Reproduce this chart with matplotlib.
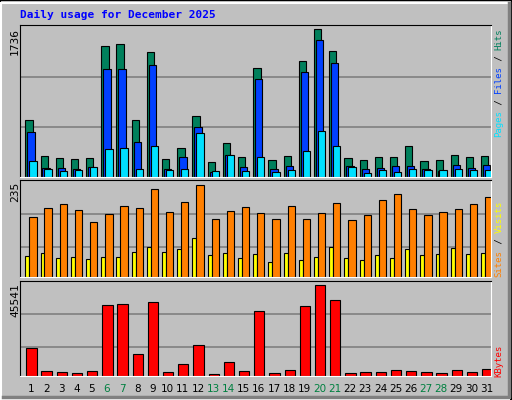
import matplotlib.pyplot as plt
from matplotlib.patches import Rectangle
import numpy as np

days = list(range(1, 32))
weekend = [6, 7, 13, 14, 20, 21, 27, 28]

hits = [664, 252, 228, 216, 228, 1537, 1560, 664, 1466, 216, 346, 711, 181, 393, 240, 1277,
        204, 252, 1360, 1736, 1478, 228, 204, 240, 240, 369, 193, 204, 263, 240, 252]
files = [523, 110, 110, 98, 122, 1265, 1265, 405, 1313, 98, 240, 582, 63, 263, 122, 1148,
         98, 134, 1230, 1607, 1336, 134, 98, 110, 134, 134, 98, 75, 145, 110, 145]
pages = [193, 98, 75, 86, 122, 334, 346, 98, 358, 86, 98, 511, 75, 263, 75, 240,
         63, 86, 310, 534, 358, 122, 51, 86, 63, 98, 86, 86, 98, 86, 86]
visits = [54, 62, 49, 52, 47, 52, 52, 64, 77, 64, 72, 100, 57, 62, 49, 59,
          39, 62, 44, 52, 77, 49, 44, 57, 49, 72, 57, 59, 75, 59, 62]
sites = [154, 176, 187, 171, 141, 161, 181, 176, 225, 166, 192, 235, 148, 169, 179, 164,
         148, 181, 148, 164, 189, 146, 159, 197, 212, 174, 159, 166, 174, 187, 204]
kbytes = [14127, 2659, 2161, 1662, 2659, 35570, 36068, 11136, 37065, 2161, 6150, 15624, 1163,
          7147, 2659, 32578, 1662, 3158, 35071, 45541, 38062, 1662, 2161, 2161, 3158, 2659,
          2161, 1662, 3158, 2161, 3657]

BG = '#C0C0C0'
W, H = 512, 400
fig = plt.figure(figsize=(W / 100, H / 100), dpi=100, facecolor=BG)

# bevel frame
fig.patches.append(Rectangle((0, 0), 1, 1, transform=fig.transFigure, fill=False, ec='black', lw=1.5))
fig.patches.append(Rectangle((1 / W, 1 / H), 1 - 4 / W, 1 - 4 / H, transform=fig.transFigure,
                             fill=False, ec='white', lw=1.5))
fig.lines.append(plt.Line2D([3 / W, 1 - 3 / W, 1 - 3 / W], [3 / H, 3 / H, 1 - 3 / H],
                            transform=fig.transFigure, color='#808080', lw=2.5))

x0, x1 = 20, 491


def make_ax(ytop, ybot, ymax, grids):
    ax = fig.add_axes([x0 / W, 1 - ybot / H, (x1 - x0) / W, (ybot - ytop) / H])
    ax.set_facecolor(BG)
    ax.set_xlim(0, 31)
    ax.set_ylim(0, ymax)
    ax.set_xticks([])
    ax.set_yticks([])
    for g in grids:
        ax.axhline(g, color='#808080', lw=1.2, zorder=0)
    ax.spines['left'].set_color('black')
    ax.spines['top'].set_color('black')
    ax.spines['right'].set_color('white')
    ax.spines['bottom'].set_color('white')
    return ax


xs = np.arange(31)
kw = dict(align='edge', edgecolor='black', linewidth=0.8, zorder=2)

ax1 = make_ax(25, 177, 1783, [586, 1178])
ax1.bar(xs + 0.35, hits, 0.48, color='#00805C', **kw)
ax1.bar(xs + 0.48, files, 0.48, color='#0040FF', **kw)
ax1.bar(xs + 0.61, pages, 0.48, color='#00E0FF', **kw)

ax2 = make_ax(180, 277, 247, [77, 161])
ax2.bar(xs + 0.35, visits, 0.26, color='#FFFF00', **kw)
ax2.bar(xs + 0.61, sites, 0.48, color='#FF8000', **kw)

ax3 = make_ax(281, 376, 47386, [14620, 31080])
ax3.bar(xs + 0.41, kbytes, 0.68, color='#FF0000', **kw)

mono = dict(family='DejaVu Sans Mono', fontsize=8)
fig.text(20 / W, 1 - 15 / H, 'Daily usage for December 2025', color='#0000FF',
         fontweight='bold', va='center', ha='left', **mono)

for txt, ytop in [(str(max(hits)), 28), (str(max(sites)), 182), (str(max(kbytes)), 283)]:
    fig.text(15 / W, 1 - ytop / H, txt, rotation=90, ha='center', va='top', **mono)


def side_label(parts, ybottom, step=5.45):
    k = 0
    for txt, col in parts:
        fig.text(499 / W, 1 - (ybottom - k * step) / H, txt, rotation=90, color=col,
                 ha='center', va='bottom', family='DejaVu Sans Mono', fontsize=6.5)
        k += len(txt)


side_label([('Pages', '#00E0FF'), (' / ', 'black'), ('Files', '#0040FF'),
            (' / ', 'black'), ('Hits', '#00805C')], 137)
side_label([('Sites', '#FF8000'), (' / ', 'black'), ('Visits', '#FFFF00')], 277, 5.55)
side_label([('KBytes', '#FF0000')], 377)

slot = (x1 - x0) / 31
for d in days:
    col = '#008040' if d in weekend else 'black'
    fig.text((x0 + (d - 1) * slot + 0.72 * slot) / W, 1 - 389 / H, str(d), color=col,
             ha='center', va='center', family='DejaVu Sans', fontsize=7.5)

fig.savefig('out.png', dpi=100, facecolor=BG)
